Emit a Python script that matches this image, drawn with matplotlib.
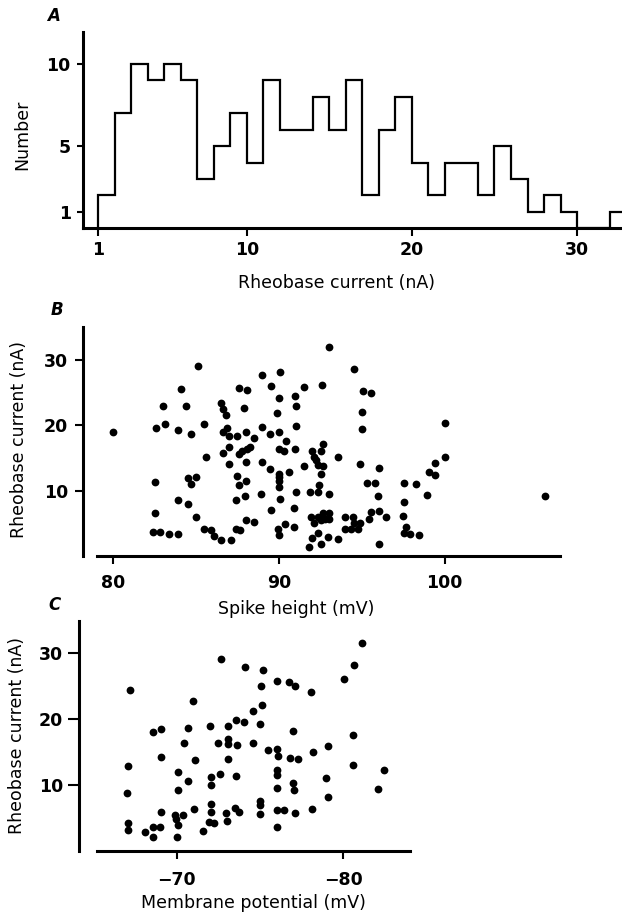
import numpy as np
import matplotlib
matplotlib.use('Agg')
from matplotlib import pyplot as plt

plt.rcParams['font.family'] = ['DejaVu Sans']

# A: number of cells per 1 nA bin, bins start at 1 nA
bin_edges = np.arange(1, 34)
counts = [2, 7, 10, 9, 10, 9, 3, 5, 7, 4, 9, 6, 6, 8, 6, 9, 2, 6, 8, 4,
          2, 4, 4, 2, 5, 3, 1, 2, 1, 0, 0, 1]

# B: spike height (mV) vs rheobase (nA)
spike_height = [80.0, 82.6, 83.1, 83.0, 84.1, 84.4, 83.9, 84.7, 85.1, 85.5,
                85.6, 82.5, 84.5, 84.7, 85.0, 83.9, 84.5, 85.0, 82.5, 82.4,
                82.8, 83.4, 83.9, 85.5, 85.9, 86.1, 86.5, 87.1, 86.5, 86.6,
                86.8, 86.6, 86.9, 87.0, 86.6, 87.0, 87.0, 87.6, 88.1, 87.9,
                87.5, 88.0, 88.5, 87.6, 87.8, 88.1, 88.25, 88.0, 87.45, 87.6,
                88.0, 87.4, 87.95, 87.4, 87.65, 88.0, 88.5, 89.0, 89.55, 90.1,
                90.0, 89.0, 89.45, 89.9, 90.0, 89.0, 89.45, 90.0, 90.3, 90.45,
                90.0, 90.0, 90.0, 90.0, 90.6, 88.95, 90.05, 89.5, 89.95, 90.0,
                90.4, 90.9, 90.9, 91.0, 91.05, 91.05, 91.0, 91.05, 91.5, 91.5,
                91.9, 92.6, 93.0, 92.0, 92.1, 92.35, 92.55, 92.65, 92.25, 92.65,
                92.55, 92.4, 92.35, 93.0, 93.55, 91.95, 92.1, 92.35, 92.55, 92.65,
                92.8, 93.0, 93.05, 91.85, 92.0, 92.35, 92.55, 92.95, 93.6, 94.0,
                94.0, 94.35, 94.45, 94.55, 94.8, 94.9, 94.55, 95.05, 95.55, 95.0,
                95.0, 94.9, 95.35, 95.8, 96.05, 96.0, 95.45, 95.55, 96.05, 96.45,
                96.05, 97.55, 97.55, 97.5, 97.65, 97.55, 97.9, 98.45, 98.3, 98.95,
                99.05, 99.4, 99.45, 100.0, 100.05, 106.05]
rheobase_b = [18.9, 19.5, 20.2, 23.0, 25.5, 22.9, 19.2, 18.7, 29.1, 20.2,
              15.1, 11.3, 11.9, 11.0, 12.0, 8.6, 7.9, 6.0, 6.6, 3.7,
              3.7, 3.4, 3.4, 4.1, 4.0, 3.1, 2.4, 2.4, 23.4, 22.5,
              21.5, 18.9, 19.5, 18.3, 15.7, 16.6, 14.0, 25.7, 25.3, 22.6,
              18.4, 19.0, 18.1, 15.6, 16.0, 16.4, 16.6, 14.3, 12.2, 10.9,
              11.5, 8.6, 9.1, 4.2, 4.0, 5.5, 5.2, 27.6, 26.0, 28.1,
              24.1, 19.7, 18.6, 21.9, 19.0, 14.3, 13.3, 16.4, 16.0, 17.6,
              12.6, 12.0, 11.4, 10.6, 12.8, 9.4, 8.7, 7.0, 4.1, 3.2,
              4.9, 4.5, 7.3, 24.5, 23.0, 19.9, 16.4, 9.8, 25.9, 13.8,
              9.8, 26.1, 31.9, 16.0, 15.1, 13.9, 16.0, 17.1, 14.7, 13.7,
              12.5, 10.8, 9.8, 9.4, 15.1, 6.0, 5.0, 5.9, 5.5, 6.5,
              5.7, 6.6, 5.6, 1.4, 2.7, 3.5, 1.9, 2.9, 2.6, 6.0,
              4.1, 4.1, 5.9, 5.0, 4.1, 5.1, 28.6, 25.2, 24.9, 22.0,
              19.4, 14.0, 11.1, 11.1, 13.4, 9.1, 5.6, 6.8, 6.9, 6.0,
              1.9, 11.2, 8.3, 6.1, 4.4, 3.5, 3.4, 3.2, 11.0, 9.3,
              12.9, 14.2, 12.4, 20.4, 15.1, 9.2]

# C: resting membrane potential (mV) vs rheobase (nA)
membrane_potential = [-67.2, -67.05, -67.0, -67.05, -67.1, -68.1, -68.55, -68.6, -69.0, -69.05,
                      -68.55, -69.05, -69.05, -69.9, -69.95, -70.05, -70.0, -70.4, -70.05, -70.1,
                      -70.65, -70.65, -70.45, -71.0, -71.1, -71.05, -71.6, -71.95, -72.25, -72.05,
                      -72.05, -72.05, -72.05, -72.6, -72.0, -72.5, -72.65, -73.1, -73.1, -73.1,
                      -73.6, -73.05, -73.55, -72.95, -73.0, -73.5, -73.75, -73.55, -74.05, -74.1,
                      -74.6, -74.6, -75.0, -75.1, -75.05, -75.2, -75.0, -75.0, -75.0, -75.5,
                      -76.0, -76.1, -76.0, -76.0, -76.0, -76.0, -76.0, -76.45, -76.0, -76.75,
                      -77.1, -77.0, -76.8, -77.3, -77.0, -77.05, -77.1, -78.05, -78.15, -78.1,
                      -79.05, -78.95, -79.05, -80.05, -80.65, -81.1, -80.55, -80.55, -82.05, -82.45]
rheobase_c = [24.4, 12.9, 8.8, 4.2, 3.2, 2.95, 3.7, 2.2, 3.7, 6.0,
              18.0, 18.4, 14.3, 5.5, 4.8, 4.0, 2.2, 5.4, 11.9, 9.3,
              10.6, 18.7, 16.4, 22.7, 13.8, 6.4, 3.0, 4.4, 4.2, 7.1,
              6.0, 10.0, 11.2, 11.6, 18.9, 16.3, 29.0, 17.0, 19.0, 16.2,
              16.1, 14.0, 11.4, 5.7, 4.6, 6.6, 5.9, 19.9, 19.6, 27.8,
              16.4, 21.2, 19.3, 22.1, 25.0, 27.4, 7.6, 7.0, 5.6, 15.3,
              15.5, 14.4, 25.7, 12.3, 11.5, 9.6, 6.3, 6.3, 3.7, 25.6,
              25.0, 18.2, 14.1, 14.0, 10.3, 9.3, 5.7, 24.1, 15.0, 6.4,
              15.9, 11.1, 8.2, 26.1, 28.2, 31.5, 17.5, 13.1, 9.4, 12.3]

W, H = 622, 916
fig = plt.figure(figsize=(W / 100, H / 100), dpi=100)


def box(left, top, right, bottom):
    # pixel box -> figure fraction
    return [left / W, 1 - bottom / H, (right - left) / W, (bottom - top) / H]


def style(ax, xlen, xpad, ylen, ypad):
    for s in ['top', 'right']:
        ax.spines[s].set_visible(False)
    for s in ['left', 'bottom']:
        ax.spines[s].set_linewidth(2.2)
    ax.tick_params(axis='x', length=xlen, width=1.5, pad=xpad, labelsize=12.5)
    ax.tick_params(axis='y', length=ylen, width=1.5, pad=ypad, labelsize=12.5)
    for lab in ax.get_xticklabels() + ax.get_yticklabels():
        lab.set_fontweight('bold')


def labels(ax, xlab, xpos, ylab, ypos):
    ax.set_xlabel(xlab, fontsize=12.5)
    ax.set_ylabel(ylab, fontsize=12.5)
    ax.xaxis.set_label_coords(xpos[0] / W, 1 - xpos[1] / H, transform=fig.transFigure)
    ax.yaxis.set_label_coords(ypos[0] / W, 1 - ypos[1] / H, transform=fig.transFigure)
    ax.xaxis.label.set_va('center')
    ax.yaxis.label.set_va('center')


# ---- A
axA = fig.add_axes(box(83, 32, 622, 228.4))
axA.stairs(counts, bin_edges, color='black', lw=1.6)
axA.set_xlim(0.09, 32.72)
axA.set_ylim(0, 11.93)
axA.set_xticks([1, 10, 20, 30])
axA.set_yticks([1, 5, 10])
style(axA, 6, 3, 4.5, 4.3)
labels(axA, 'Rheobase current (nA)', (336, 283), 'Number', (22, 135))

# ---- B
axB = fig.add_axes(box(83, 327, 560, 556))
axB.plot(spike_height, rheobase_b, 'o', color='black', ms=5.6, mew=0, clip_on=False)
axB.set_xlim(78.18, 106.97)
axB.set_ylim(0, 35)
axB.spines['bottom'].set_bounds(79.03, 106.97)
axB.set_xticks([80, 90, 100])
axB.set_yticks([10, 20, 30])
style(axB, 6, 7, 5.5, 5.4)
labels(axB, 'Spike height (mV)', (296, 609), 'Rheobase current (nA)', (19, 440))

# ---- C
axC = fig.add_axes(box(79, 621, 410, 851.2))
axC.plot(membrane_potential, rheobase_c, 'o', color='black', ms=5.6, mew=0, clip_on=False)
axC.set_xlim(-64.14, -84.0)
axC.set_ylim(0, 34.8)
axC.spines['bottom'].set_bounds(-65.22, -84.0)
axC.set_xticks([-70, -80])
axC.set_yticks([10, 20, 30])
style(axC, 6, 8, 8, 3.6)
labels(axC, 'Membrane potential (mV)', (253, 903), 'Rheobase current (nA)', (17, 735))

# panel letters
for letter, (px, py) in zip(['A', 'B', 'C'], [(54, 16), (57, 310), (55, 605)]):
    fig.text(px / W, 1 - py / H, letter, fontsize=12, fontstyle='italic',
             fontweight='bold', ha='center', va='center')

fig.savefig('out.png', dpi=100)
